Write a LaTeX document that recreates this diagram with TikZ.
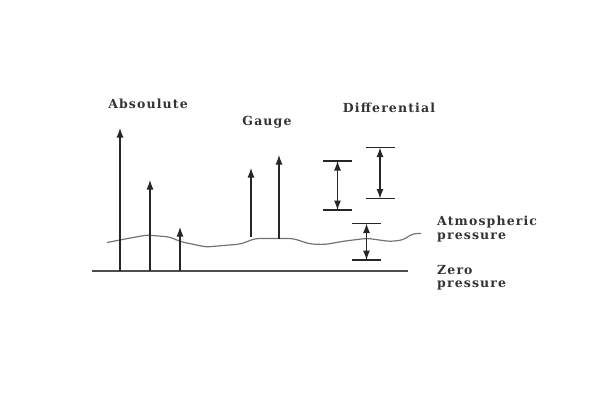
\documentclass[tikz,border=0pt]{standalone}
\usepackage{fontspec}
\setmainfont{DejaVu Serif}
\newfontfamily\lblfont[LetterSpace=9]{DejaVu Serif}
\usetikzlibrary{arrows.meta}
\begin{document}
\begin{tikzpicture}[x=1pt,y=-1pt,
  lbl/.style={font=\lblfont\bfseries\fontsize{12.5}{13.5}\selectfont, text=black!80, inner sep=0pt},
  tip/.style={},
  arr/.style={draw=black!85, line width=1.2pt, -{Latex[length=9.5pt,width=7pt]}},
  darr/.style={draw=black!85, line width=1.2pt, {Latex[length=9.5pt,width=7pt]}-{Latex[length=9.5pt,width=7pt]}},
  tick/.style={draw=black!85, line width=1.2pt},
  atm/.style={draw=black!55, line width=1.2pt},
  zero/.style={draw=black!70, line width=1.4pt}]
\useasboundingbox (0,0) rectangle (600,400);
% zero pressure line
\coordinate (z0) at (92,271);
\coordinate (z1) at (408,271);
\draw[zero] (z0) -- (z1);
% atmospheric line
\draw[atm, rounded corners=4pt] (107,242.5) -- (125,239) -- (147,235) -- (170,237) -- (180,241.5) -- (206,247) -- (241,244) -- (255,238.5) -- (293,238.5) -- (310,244) -- (325,244.5) -- (345,241) -- (367,238.3) -- (390,241.5) -- (403,240) -- (413,233.5) -- (421,233.5);
% absolute arrows
\coordinate (a1b) at (120,271); \coordinate (a1t) at (120,128);
\coordinate (a2b) at (150,271); \coordinate (a2t) at (150,180);
\coordinate (a3b) at (180,271); \coordinate (a3t) at (180,227);
\draw[arr] (a1b) -- (a1t);
\draw[arr] (a2b) -- (a2t);
\draw[arr] (a3b) -- (a3t);
% gauge arrows
\coordinate (g1b) at (251,237); \coordinate (g1t) at (251,168);
\coordinate (g2b) at (279,238.5); \coordinate (g2t) at (279,155);
\draw[arr] (g1b) -- (g1t);
\draw[arr] (g2b) -- (g2t);
% differential bars
\coordinate (d1t) at (337.5,161); \coordinate (d1b) at (337.5,210);
\draw[tick] (323,161) -- (352,161);
\draw[tick] (323,210) -- (352,210);
\draw[darr] (d1t) -- (d1b);
\coordinate (d2t) at (380,147.5); \coordinate (d2b) at (380,198.5);
\draw[tick] (366,147.5) -- (395,147.5);
\draw[tick] (366,198.5) -- (395,198.5);
\draw[darr] (d2t) -- (d2b);
\coordinate (d3t) at (366.5,223.5); \coordinate (d3b) at (366.5,260);
\draw[tick] (352,223.5) -- (381,223.5);
\draw[tick] (352,260) -- (381,260);
\draw[darr] (d3t) -- (d3b);
% labels
\node[lbl] (abs) at (148,104) {Absoulute};
\node[lbl] (gauge) at (267,122) {Gauge};
\node[lbl] (diff) at (389,108) {Differential};
\node[lbl, anchor=north west, align=left] (atmlbl) at (437,216) {Atmospheric\\pressure};
\node[lbl, anchor=north west, align=left] (zerolbl) at (437,265) {Zero\\pressure};
\end{tikzpicture}
\end{document}
